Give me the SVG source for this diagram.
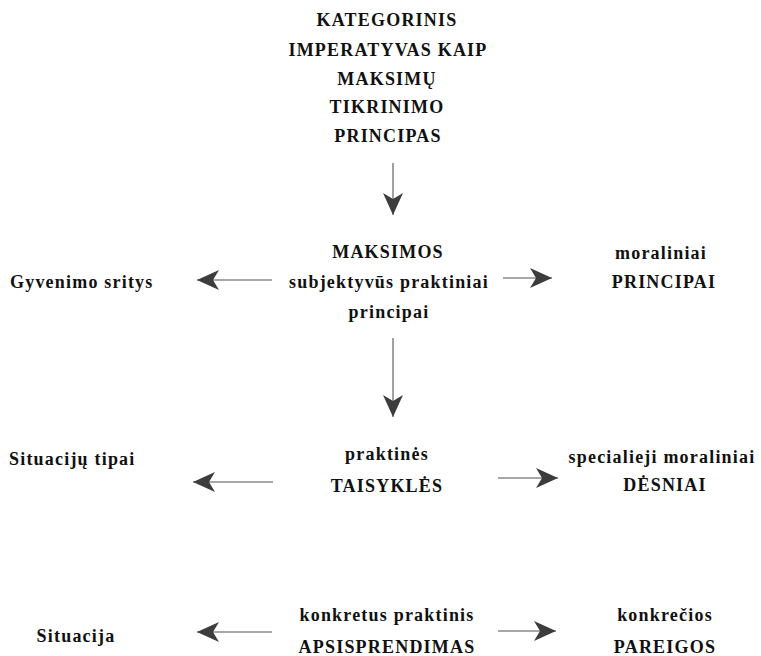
<svg xmlns="http://www.w3.org/2000/svg" width="761" height="656" viewBox="0 0 761 656">
<style>
text{font-family:"Liberation Serif","Times New Roman",serif;font-weight:bold;font-size:18px;fill:#111;letter-spacing:1.2px}
.c{text-anchor:middle}
.shaft{stroke:#8a8a8a;stroke-width:1.6;fill:none}
</style>
<defs>
<marker id="ah" markerUnits="userSpaceOnUse" markerWidth="24" markerHeight="22" viewBox="0 0 24 22" refX="23" refY="11" orient="auto">
<path d="M1,1 L23,11 L1,21 L7,11 Z" fill="#3c3c3c"/>
</marker>
</defs>
<rect width="761" height="656" fill="#fff"/>
<g id="connectors">
<line class="shaft" x1="393" y1="163" x2="393" y2="215" marker-end="url(#ah)"/>
<line class="shaft" x1="272" y1="280" x2="197" y2="280" marker-end="url(#ah)"/>
<line class="shaft" x1="503" y1="278" x2="552" y2="278" marker-end="url(#ah)"/>
<line class="shaft" x1="393" y1="338" x2="393" y2="417" marker-end="url(#ah)"/>
<line class="shaft" x1="273" y1="482" x2="193" y2="482" marker-end="url(#ah)"/>
<line class="shaft" x1="498" y1="478" x2="558" y2="478" marker-end="url(#ah)"/>
<line class="shaft" x1="272" y1="632" x2="197" y2="632" marker-end="url(#ah)"/>
<line class="shaft" x1="498" y1="631" x2="556" y2="631" marker-end="url(#ah)"/>
</g>
<g id="n-kategorinis">
<text class="c" x="387" y="26">KATEGORINIS</text>
<text class="c" x="388" y="56">IMPERATYVAS KAIP</text>
<text class="c" x="387" y="85">MAKSIMŲ</text>
<text class="c" x="387" y="113">TIKRINIMO</text>
<text class="c" x="388" y="142">PRINCIPAS</text>
</g>
<g id="n-maksimos">
<text class="c" x="388" y="258">MAKSIMOS</text>
<text class="c" x="389" y="288">subjektyvūs praktiniai</text>
<text class="c" x="389" y="318">principai</text>
</g>
<g id="n-gyvenimo"><text x="10" y="288">Gyvenimo sritys</text></g>
<g id="n-principai">
<text class="c" x="661" y="259">moraliniai</text>
<text class="c" x="664" y="288">PRINCIPAI</text>
</g>
<g id="n-situaciju-tipai"><text x="9" y="465">Situacijų tipai</text></g>
<g id="n-taisykles">
<text class="c" x="387" y="460">praktinės</text>
<text class="c" x="387" y="492">TAISYKLĖS</text>
</g>
<g id="n-desniai">
<text class="c" x="662" y="463">specialieji moraliniai</text>
<text class="c" x="665" y="491">DĖSNIAI</text>
</g>
<g id="n-situacija"><text class="c" x="76" y="642">Situacija</text></g>
<g id="n-apsisprendimas">
<text class="c" x="387" y="621">konkretus praktinis</text>
<text class="c" x="387" y="653">APSISPRENDIMAS</text>
</g>
<g id="n-pareigos">
<text class="c" x="665" y="621">konkrečios</text>
<text class="c" x="665" y="653">PAREIGOS</text>
</g>
</svg>
